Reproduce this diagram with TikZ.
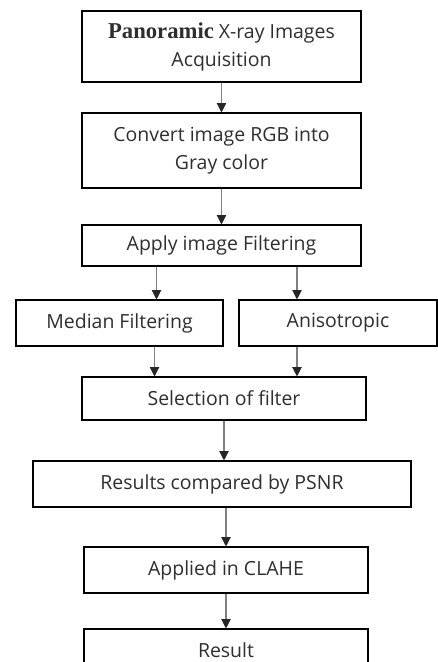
\documentclass[tikz,border=0pt]{standalone}
\usepackage{fontspec}
\setmainfont{Open Sans}
\newfontfamily\panofont{Liberation Serif}
\usetikzlibrary{arrows.meta}
\definecolor{inkgray}{HTML}{2E2E2E}

\begin{document}
\begin{tikzpicture}[x=0.75pt, y=-0.75pt,
    stepbox/.style={draw=black, line width=0.8pt, inner sep=0pt, align=center,
        text=inkgray, font=\fontsize{14.6}{21}\selectfont},
    flow/.style={draw=gray, line width=0.8pt,
        -{Triangle[length=7pt, width=7pt, color=black!85]}}
    ]
    \useasboundingbox (0,0) rectangle (438,662);

    \node[stepbox, minimum width=209.25pt, minimum height=53.25pt] (B1) at (221.5, 46.5)
        {{\panofont\fontsize{17}{21}\selectfont\bfseries Panoramic} X-ray Images\\Acquisition};
    \node[stepbox, minimum width=209.25pt, minimum height=56.25pt] (B2) at (221.5, 150.5)
        {Convert image RGB into\\Gray color};
    \node[stepbox, minimum width=209.25pt, minimum height=30.75pt] (B3) at (221.5, 245.5)
        {Apply image Filtering};
    \node[stepbox, minimum width=155.25pt, minimum height=34.5pt] (B4) at (119.5, 323)
        {Median Filtering};
    \node[stepbox, minimum width=148.5pt, minimum height=34.5pt] (B5) at (338, 323)
        {Anisotropic};
    \node[stepbox, minimum width=213pt, minimum height=32.25pt] (B6) at (224, 398.5)
        {Selection of filter};
    \node[stepbox, minimum width=283.5pt, minimum height=34.5pt] (B7) at (222, 484)
        {Results compared by PSNR};
    \node[stepbox, minimum width=213pt, minimum height=34.5pt] (B8) at (226, 570)
        {Applied in CLAHE};
    \node[stepbox, minimum width=213pt, minimum height=32.25pt] (B9) at (226, 650.5)
        {Result};

    % main flow
    \draw[flow] (B1.south) -- (B2.north);
    \draw[flow] (B2.south) -- (B3.north);
    \draw[flow] ([xshift=27.75pt]B4.north |- B3.south) -- ([xshift=27.75pt]B4.north);
    \draw[flow] ([xshift=-30.75pt]B5.north |- B3.south) -- ([xshift=-30.75pt]B5.north);
    \draw[flow] ([xshift=26.25pt]B4.south) -- ([xshift=26.25pt]B4.south |- B6.north);
    \draw[flow] ([xshift=-30.75pt]B5.south) -- ([xshift=-30.75pt]B5.south |- B6.north);
    \draw[flow] (B6.south) -- (B6.south |- B7.north);
    \draw[flow] (B8.north |- B7.south) -- (B8.north);
    \draw[flow] (B8.south) -- (B9.north);
\end{tikzpicture}
\end{document}
